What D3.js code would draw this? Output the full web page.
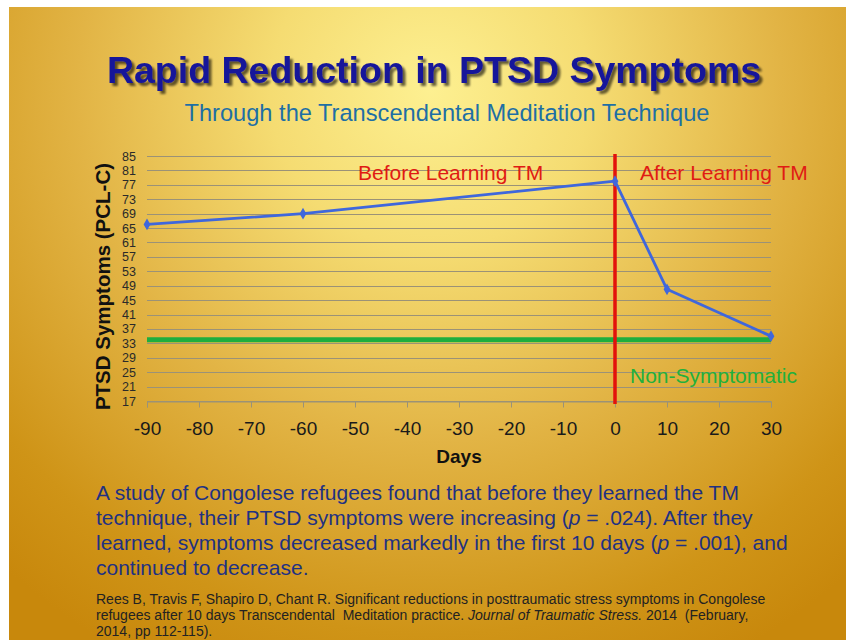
<!DOCTYPE html>
<html>
<head>
<meta charset="utf-8">
<script src="https://cdn.jsdelivr.net/npm/d3@7"></script>
<style>
html,body{margin:0;padding:0;background:#fff;}
svg{display:block;}
</style>
</head>
<body>
<svg id="chart" width="846" height="640"></svg>
<script>
// ---- data ----
const days = [-90, -60, 0, 10, 30];
const pclScores = [66, 69, 78, 48, 35];
const nonSymptomaticLevel = 34;
const xTicks = [-90, -80, -70, -60, -50, -40, -30, -20, -10, 0, 10, 20, 30];
const yTicks = [17, 21, 25, 29, 33, 37, 41, 45, 49, 53, 57, 61, 65, 69, 73, 77, 81, 85];
const titleText = "Rapid Reduction in PTSD Symptoms";
const subtitleText = "Through the Transcendental Meditation Technique";
const yLabel = "PTSD Symptoms (PCL-C)";
const xLabel = "Days";
const beforeLabel = "Before Learning TM";
const afterLabel = "After Learning TM";
const nonSympLabel = "Non-Symptomatic";
const bodyLines = [
  ["A study of Congolese refugees found that before they learned the TM"],
  ["technique, their PTSD symptoms were increasing (", {i:"p"}, " = .024). After they"],
  ["learned, symptoms decreased markedly in the first 10 days (", {i:"p"}, " = .001), and"],
  ["continued to decrease."]
];
const citeLines = [
  ["Rees B, Travis F, Shapiro D, Chant R. Significant reductions in posttraumatic stress symptoms in Congolese"],
  ["refugees after 10 days Transcendental  Meditation practice. ", {i:"Journal of Traumatic Stress."}, " 2014  (February,"],
  ["2014, pp 112-115)."]
];

const svg = d3.select("#chart");
const defs = svg.append("defs");
const grad = defs.append("radialGradient").attr("id","bg")
  .attr("gradientUnits","userSpaceOnUse")
  .attr("cx",430).attr("cy",90).attr("r",640);
grad.append("stop").attr("offset","0").attr("stop-color","#fdf091");
grad.append("stop").attr("offset","0.25").attr("stop-color","#f5dc72");
grad.append("stop").attr("offset","0.55").attr("stop-color","#e2b445");
grad.append("stop").attr("offset","0.85").attr("stop-color","#cf9417");
grad.append("stop").attr("offset","1").attr("stop-color","#c8880c");

const shadow = defs.append("filter").attr("id","tshadow").attr("x","-10%").attr("y","-30%").attr("width","120%").attr("height","160%");
shadow.append("feGaussianBlur").attr("in","SourceAlpha").attr("stdDeviation",1.2).attr("result","b");
shadow.append("feOffset").attr("in","b").attr("dx",2.5).attr("dy",2.5).attr("result","o");
shadow.append("feComponentTransfer").attr("in","o").attr("result","o2")
  .append("feFuncA").attr("type","linear").attr("slope",0.6);
const fm = shadow.append("feMerge");
fm.append("feMergeNode").attr("in","o2");
fm.append("feMergeNode").attr("in","SourceGraphic");

svg.append("rect").attr("x",9).attr("y",7).attr("width",846-9).attr("height",640-7).attr("fill","url(#bg)");

// titles
svg.append("text").attr("x",434).attr("y",83).attr("text-anchor","middle")
  .attr("font-family","Liberation Sans, Arial, sans-serif").attr("font-weight","bold")
  .attr("font-size",37.5).attr("fill","#16169a").attr("filter","url(#tshadow)").text(titleText);
svg.append("text").attr("x",447).attr("y",121).attr("text-anchor","middle")
  .attr("font-family","Liberation Sans, Arial, sans-serif")
  .attr("font-size",24.5).attr("textLength",525).attr("lengthAdjust","spacingAndGlyphs")
  .attr("fill","#1e6fa5").text(subtitleText);

// scales
const x = d3.scaleLinear().domain([-90,30]).range([147,771]);
const y = d3.scaleLinear().domain([17,85]).range([401,156]);

// gridlines
svg.append("g").selectAll("line").data(yTicks).join("line")
  .attr("x1",x(-90)).attr("x2",x(30))
  .attr("y1",d=>Math.round(y(d))+0.5).attr("y2",d=>Math.round(y(d))+0.5)
  .attr("stroke","#9b9277").attr("stroke-width",1);

// x axis
const xAxis = svg.append("g").attr("transform",`translate(0,${Math.round(y(17))+0.5})`)
  .call(d3.axisBottom(x).tickValues(xTicks).tickSize(6).tickPadding(14).tickFormat(d3.format("d")));
xAxis.select(".domain").attr("stroke","#9b9277");
xAxis.selectAll(".tick line").attr("stroke","#9b9277");
xAxis.selectAll("text").attr("font-family","Liberation Sans, Arial, sans-serif").attr("font-size",19).attr("fill","#1a1a1a")
  .text(d=> d<0 ? "-"+Math.abs(d) : d);

// y axis labels
const yAxis = svg.append("g").attr("transform",`translate(${x(-90)},0)`)
  .call(d3.axisLeft(y).tickValues(yTicks).tickSize(0).tickPadding(11));
yAxis.select(".domain").remove();
yAxis.selectAll("text").attr("font-family","Liberation Sans, Arial, sans-serif")
  .attr("font-size",12.5).attr("fill","#2a2a2a");

// axis titles
svg.append("text").attr("transform",`translate(110,${(y(17)+y(85))/2 + 8}) rotate(-90)`)
  .attr("text-anchor","middle").attr("font-family","Liberation Sans, Arial, sans-serif")
  .attr("font-weight","bold").attr("font-size",20.5).attr("fill","#111").text(yLabel);
svg.append("text").attr("x",459).attr("y",463).attr("text-anchor","middle")
  .attr("font-family","Liberation Sans, Arial, sans-serif").attr("font-weight","bold")
  .attr("font-size",19).attr("fill","#111").text(xLabel);

// non-symptomatic line
svg.append("line").attr("x1",x(-90)).attr("x2",x(30))
  .attr("y1",y(nonSymptomaticLevel)).attr("y2",y(nonSymptomaticLevel))
  .attr("stroke","#1fae3e").attr("stroke-width",5);

// red vertical line at day 0
svg.append("line").attr("x1",x(0)).attr("x2",x(0)).attr("y1",y(85)-2).attr("y2",y(17)+3)
  .attr("stroke","#e3120b").attr("stroke-width",3.5);

// data line
const line = d3.line().x((d,i)=>x(days[i])).y(d=>y(d));
svg.append("path").datum(pclScores).attr("d",line).attr("fill","none")
  .attr("stroke","#3f67dc").attr("stroke-width",2.8).attr("stroke-linejoin","round");
svg.append("g").selectAll("path").data(pclScores).join("path")
  .attr("d",d3.symbol(d3.symbolDiamond,40))
  .attr("transform",(d,i)=>`translate(${x(days[i])},${y(d)})`)
  .attr("fill","#3f67dc");

// annotations
const ann = (t,xx,yy,c)=>svg.append("text").attr("x",xx).attr("y",yy)
  .attr("font-family","Liberation Sans, Arial, sans-serif").attr("font-size",21).attr("fill",c).text(t);
ann(beforeLabel,358,180,"#e01b14");
ann(afterLabel,640,180,"#e01b14");
ann(nonSympLabel,630,383,"#22b03c");

// body text
function para(lines, x0, y0, lh, size, color, family){
  lines.forEach((ln,i)=>{
    const t = svg.append("text").attr("x",x0).attr("y",y0+i*lh)
      .attr("font-family",family).attr("font-size",size).attr("fill",color)
      .style("white-space","pre");
    ln.forEach(seg=>{
      if(typeof seg === "string") t.append("tspan").text(seg);
      else t.append("tspan").attr("font-style","italic").text(seg.i);
    });
  });
}
para(bodyLines, 96, 500, 25, 21, "#1f3182", "Liberation Sans, Arial, sans-serif");
para(citeLines, 96, 604, 16, 14, "#222", "Liberation Sans, Arial, sans-serif");
</script>
</body>
</html>
